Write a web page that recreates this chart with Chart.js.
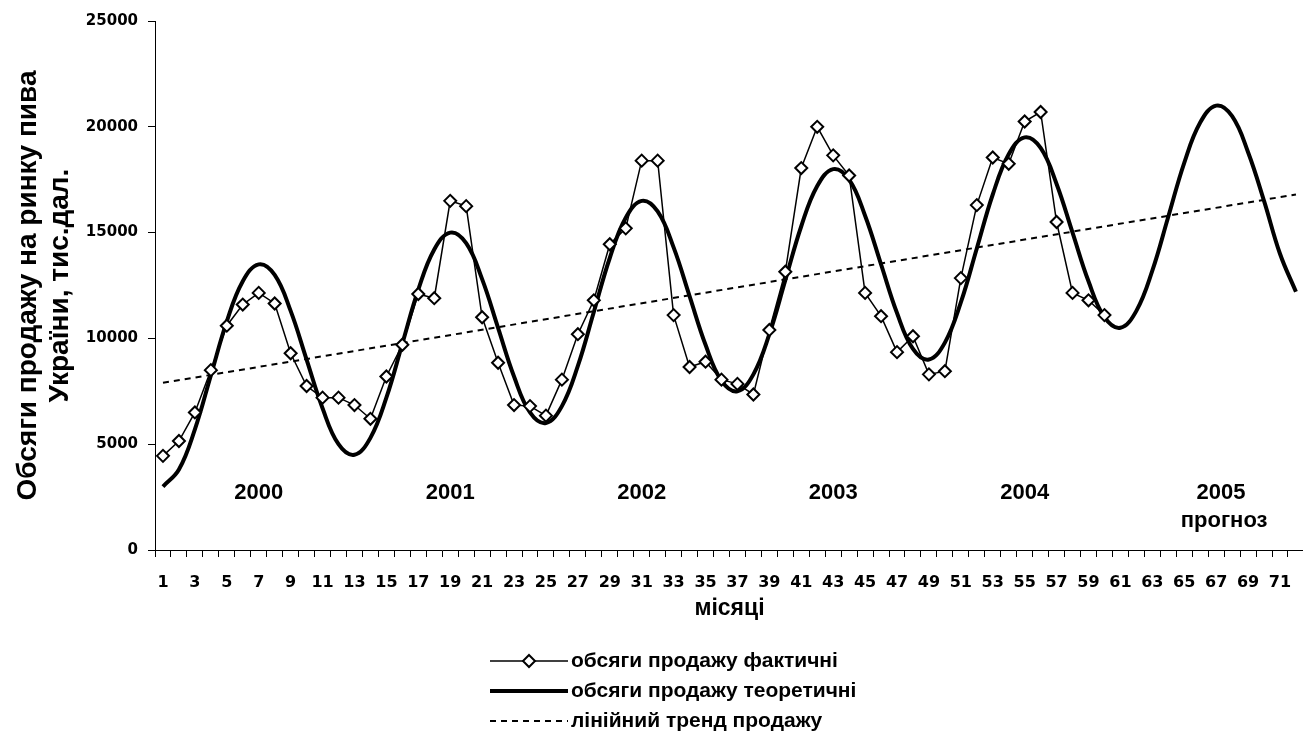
<!DOCTYPE html>
<html lang="uk">
<head>
<meta charset="utf-8">
<title>Обсяги продажу на ринку пива України</title>
<script src="https://cdn.jsdelivr.net/npm/chart.js@4.4.1/dist/chart.umd.min.js"></script>
<style>
    html, body { margin: 0; padding: 0; background: #fff; overflow: hidden; }
    .chart-wrap { position: relative; width: 1312px; height: 740px; }
</style>
</head>
<body>
<div class="chart-wrap"><canvas id="salesChart"></canvas></div>
<script>
// місяці 2000-2005
const months = [
    '1', '2', '3', '4', '5', '6', '7', '8', '9', '10', '11', '12',
    '13', '14', '15', '16', '17', '18', '19', '20', '21', '22', '23', '24',
    '25', '26', '27', '28', '29', '30', '31', '32', '33', '34', '35', '36',
    '37', '38', '39', '40', '41', '42', '43', '44', '45', '46', '47', '48',
    '49', '50', '51', '52', '53', '54', '55', '56', '57', '58', '59', '60',
    '61', '62', '63', '64', '65', '66', '67', '68', '69', '70', '71', '72'
];

// обсяги продажу фактичні, тис.дал. (2000-2004)
const actualSales = [
    4450, 5150, 6500, 8500, 10600, 11600, 12150, 11650, 9300, 7750, 7200, 7200,
    6850, 6200, 8200, 9700, 12100, 11900, 16500, 16250, 11000, 8850, 6850, 6800,
    6350, 8050, 10200, 11800, 14450, 15200, 18400, 18400, 11100, 8650, 8900, 8050,
    7850, 7350, 10400, 13150, 18050, 20000, 18650, 17700, 12150, 11050, 9350, 10100,
    8300, 8450, 12850, 16300, 18550, 18250, 20250, 20700, 15500, 12150, 11800, 11100
];

// обсяги продажу теоретичні (модель + прогноз на 2005)
const theoreticalSales = [
    3000, 3800, 5700, 8250, 10800, 12700, 13500, 13000, 11300, 9000, 6700, 5000,
    4500, 5300, 7200, 9750, 12300, 14200, 15000, 14500, 12800, 10500, 8200, 6500,
    6000, 6800, 8700, 11250, 13800, 15700, 16500, 16000, 14300, 12000, 9700, 8000,
    7500, 8300, 10200, 12750, 15300, 17200, 18000, 17500, 15800, 13500, 11200, 9500,
    9000, 9800, 11700, 14250, 16800, 18700, 19500, 19000, 17300, 15000, 12700, 11000,
    10500, 11300, 13200, 15750, 18300, 20200, 21000, 20500, 18800, 16500, 14000, 12200
];

// лінійний тренд: початок і кінець
const trendMonths = ['1', '72'];
const trendValues = [7900, 16800];

const yearLabels = ['2000', '2001', '2002', '2003', '2004', '2005'];
const yTicks = [0, 5000, 10000, 15000, 20000, 25000];

const axisFont = { family: '"DejaVu Sans", sans-serif', size: 15, weight: 'bold' };
const textFamily = '"Liberation Sans", Arial, sans-serif';

const yearNotes = {
    id: 'yearNotes',
    afterDatasetsDraw(chart) {
        const { ctx, scales: { x, y } } = chart;
        // індекс місяця, над яким стоїть підпис року
        const spots = [6, 18, 30, 42, 54, 66.3];
        ctx.save();
        ctx.fillStyle = '#000';
        ctx.textAlign = 'center';
        ctx.textBaseline = 'middle';
        ctx.font = `bold 22px ${textFamily}`;
        yearLabels.forEach((label, i) => {
            ctx.fillText(label, x.getPixelForValue(spots[i]), y.getPixelForValue(2700));
        });
        ctx.fillText('прогноз', x.getPixelForValue(66.5), y.getPixelForValue(1370));
        ctx.restore();
    }
};

const stackedLegend = {
    id: 'stackedLegend',
    afterDraw(chart) {
        const { ctx } = chart;
        const lineStart = 490;
        const lineEnd = 568;
        const rowTop = 661;
        const rowGap = 30;
        ctx.save();
        ctx.font = `bold 21px ${textFamily}`;
        ctx.textBaseline = 'middle';
        ctx.textAlign = 'left';
        ctx.fillStyle = '#000';
        chart.data.datasets.forEach((ds, i) => {
            const yPos = rowTop + i * rowGap;
            ctx.beginPath();
            ctx.setLineDash(ds.borderDash || []);
            ctx.lineWidth = ds.borderWidth;
            ctx.strokeStyle = ds.borderColor;
            ctx.moveTo(lineStart, yPos);
            ctx.lineTo(lineEnd, yPos);
            ctx.stroke();
            ctx.setLineDash([]);
            if (ds.pointRadius > 0) {
                const cx = (lineStart + lineEnd) / 2;
                const r = ds.pointRadius;
                ctx.beginPath();
                ctx.moveTo(cx, yPos - r);
                ctx.lineTo(cx + r, yPos);
                ctx.lineTo(cx, yPos + r);
                ctx.lineTo(cx - r, yPos);
                ctx.closePath();
                ctx.fillStyle = ds.pointBackgroundColor;
                ctx.fill();
                ctx.lineWidth = ds.pointBorderWidth;
                ctx.stroke();
                ctx.fillStyle = '#000';
            }
            ctx.fillText(ds.label, lineEnd + 3, yPos);
        });
        ctx.restore();
    }
};

const chart = new Chart(document.getElementById('salesChart'), {
    type: 'line',
    data: {
        labels: months,
        datasets: [
            {
                label: 'обсяги продажу фактичні',
                data: actualSales,
                borderColor: '#000',
                borderWidth: 1.5,
                pointStyle: 'rectRot',
                pointRadius: 6,
                pointBorderWidth: 2,
                pointBorderColor: '#000',
                pointBackgroundColor: '#fff',
                tension: 0
            },
            {
                label: 'обсяги продажу теоретичні',
                data: theoreticalSales,
                borderColor: '#000',
                borderWidth: 4,
                pointRadius: 0,
                tension: 0.4
            },
            {
                label: 'лінійний тренд продажу',
                data: trendMonths.map((m, i) => ({ x: m, y: trendValues[i] })),
                borderColor: '#000',
                borderWidth: 2,
                borderDash: [6, 5],
                pointRadius: 0,
                tension: 0
            }
        ]
    },
    options: {
        responsive: true,
        maintainAspectRatio: false,
        animation: false,
        events: [],
        layout: { padding: { top: 21, right: 2, bottom: 115, left: 0 } },
        scales: {
            x: {
                offset: true,
                afterFit: scale => { scale.height = 75; },
                border: { display: true, color: '#000', width: 1 },
                grid: {
                    offset: true,
                    drawOnChartArea: false,
                    drawTicks: true,
                    tickLength: 7,
                    tickColor: '#000'
                },
                ticks: {
                    autoSkip: false,
                    maxRotation: 0,
                    minRotation: 0,
                    padding: 16,
                    color: '#000',
                    font: { ...axisFont, size: 16 },
                    callback: (value, index) => (index % 2 === 0 ? months[index] : '')
                },
                title: {
                    display: true,
                    text: 'місяці',
                    color: '#000',
                    font: { family: textFamily, size: 23, weight: 'bold' },
                    padding: { top: 0, bottom: 3 }
                }
            },
            y: {
                min: 0,
                max: 25000,
                afterFit: scale => { scale.width = 155; },
                afterBuildTicks: scale => { scale.ticks = yTicks.map(v => ({ value: v })); },
                border: { display: true, color: '#000', width: 1 },
                grid: {
                    drawOnChartArea: false,
                    drawTicks: true,
                    tickLength: 7,
                    tickColor: '#000'
                },
                ticks: {
                    padding: 10,
                    color: '#000',
                    font: axisFont,
                    callback: value => String(value)
                },
                title: {
                    display: true,
                    text: ['Обсяги продажу на ринку пива', 'України, тис.дал.'],
                    color: '#000',
                    font: { family: textFamily, size: 28, weight: 'bold', lineHeight: 1.12 },
                    padding: { top: 13, bottom: 0 }
                }
            }
        },
        plugins: {
            legend: { display: false },
            tooltip: { enabled: false }
        }
    },
    plugins: [yearNotes, stackedLegend]
});
</script>
</body>
</html>
